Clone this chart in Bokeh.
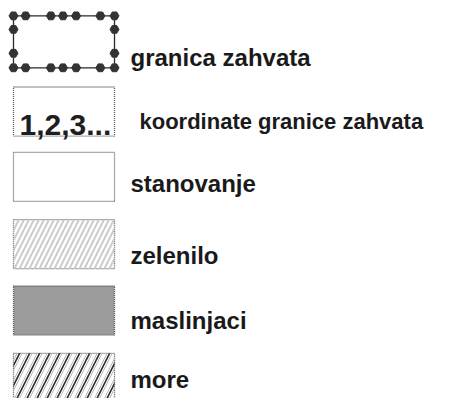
from bokeh.plotting import figure
from bokeh.models import Range1d
from bokeh.core.properties import value
from bokeh.embed import file_html
from bokeh.resources import INLINE

# legend entries (Croatian map legend)
labels = ["granica zahvata", "koordinate granice zahvata", "stanovanje",
          "zelenilo", "maslinjaci", "more"]
symbol_text = "1,2,3..."
# fill style per entry
fills = [None, "#ffffff", "#ffffff", "#ffffff", "#9b9b9b", "#ffffff"]

# layout (reference pixel coordinates, scaled vertically to fit)
W, H = 435, 398
sy = H / 414.0
box_left, box_right = 13, 114
box_tops = [v * sy for v in [16, 90, 158, 228, 297, 367]]
box_bottoms = [v * sy for v in [70, 141, 209, 279, 348, 418]]
label_x = [130, 139, 130, 130, 130, 130]
label_base = [v * sy for v in [59, 126, 190, 265, 333, 394]]
label_size = ["24px", "22px", "24px", "24px", "24px", "24px"]
dot_frac_x = [0.0, 0.12, 0.37, 0.49, 0.62, 0.86, 1.0]
dot_frac_y = [0.26, 0.72]

p = figure(width=W, height=H, output_backend="svg", toolbar_location=None,
           x_range=Range1d(0, W), y_range=Range1d(H, 0),
           min_border=0, outline_line_color=None)
p.axis.visible = False
p.grid.visible = False
p.background_fill_color = "#ffffff"
p.border_fill_color = "#ffffff"

# boxes 1..5
for i in range(1, 6):
    p.quad(left=box_left, right=box_right, top=box_tops[i], bottom=box_bottoms[i],
           fill_color=fills[i], line_color="#5a5a5a", line_width=1.3, line_dash="1 1")

# hatch for zelenilo
p.quad(left=box_left, right=box_right, top=box_tops[3], bottom=box_bottoms[3],
       fill_alpha=0, line_alpha=0, hatch_pattern="/", hatch_color="#cccccc",
       hatch_scale=10, hatch_weight=2)
# hatch for more (light dotted + dark lines)
p.quad(left=box_left, right=box_right, top=box_tops[5], bottom=box_bottoms[5],
       fill_alpha=0, line_alpha=0, hatch_pattern="/", hatch_color="#b8b8b8",
       hatch_scale=10, hatch_weight=1)
p.quad(left=box_left, right=box_right, top=box_tops[5], bottom=box_bottoms[5],
       fill_alpha=0, line_alpha=0, hatch_pattern="/", hatch_color="#2a2a2a",
       hatch_scale=20, hatch_weight=1.6)

# boundary symbol
t0, b0 = box_tops[0], box_bottoms[0]
p.quad(left=box_left, right=box_right, top=t0, bottom=b0,
       fill_color="#ffffff", line_color="#2a2a2a", line_width=1.3)
dx = [box_left + f * (box_right - box_left) for f in dot_frac_x]
dy = [t0 + f * (b0 - t0) for f in dot_frac_y]
xs = dx + dx + [box_left] * 2 + [box_right] * 2
ys = [t0] * len(dx) + [b0] * len(dx) + dy + dy
p.scatter(xs, ys, marker="hex", size=9, fill_color="#333333", line_color="#333333")

# "1,2,3..." inside box
p.text(x=[19], y=[129 * sy], text=[symbol_text], text_font=value("Liberation Sans"),
       text_font_style="bold", text_font_size="30px", text_color="#1e1e1e",
       text_baseline="alphabetic", text_align="left")

# labels
p.text(x=label_x, y=label_base, text=labels, text_font=value("Liberation Sans"),
       text_font_style="bold", text_font_size=label_size, text_color="#1a1a1a",
       text_baseline="alphabetic", text_align="left")

open("out.html", "w").write(file_html(p, INLINE))
